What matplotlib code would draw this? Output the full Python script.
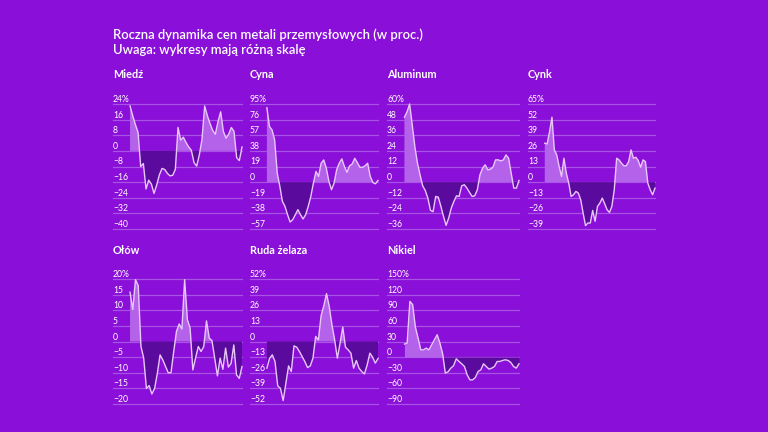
import numpy as np
import matplotlib
matplotlib.use('agg')
import matplotlib.pyplot as plt
import matplotlib.transforms as mtransforms

plt.rcParams['font.family'] = ['Lato', 'DejaVu Sans']

# --- data (roczna zmiana cen, %) ---
names = ["Miedź", "Cyna", "Aluminum", "Cynk", "Ołów", "Ruda żelaza", "Nikiel"]

miedz = [23, 18, 13.5, 9.5, -8, -6.5, -19.5, -15, -17, -21.8, -17.5, -12.3, -9, -9.5,
         -11.5, -12.8, -12.5, -9.5, 12, 5.5, 7, 4.3, 2, 0.3, -6, -7.8, -2, 6, 23, 18,
         14, 10.5, 8.5, 15, 20, 10, 6.5, 8.5, 12, 10, -3.5, -5, 2]
cyna = [90.5, 67.5, 63.4, 51.3, 11, -5, -23.4, -29.5, -39.6, -48.5, -45.7, -39.6, -33.5,
        -39.6, -44.8, -39.6, -29.5, -17.4, -1.2, 13, 6.9, 23, 27, 17, 0.8, -9.3, -1.2,
        15, 23, 28.3, 19, 12, 19.8, 22, 29, 23.8, 18, 18, 19.8, 23, 6.9, -0.4, -2, 2]
aluminum = [49.8, 54, 60, 43.9, 27.3, 14.6, 5.6, -2.8, -6.4, -12.3, -21.7, -22.7, -11,
            -11.5, -18.6, -26.3, -33.2, -27.6, -19.9, -14.8, -10.5, -11, -2.8, -2, -4.6,
            -7.9, -11, -10.5, -5.9, 5.6, 10.7, 13.3, 9.4, 10, 11.5, 17.1, 17.1, 16.3,
            17.1, 20.9, 18.4, 6.9, -4.6, -4.6, 1.3]
cynk = [32.4, 31.8, 42, 54, 26.8, 22.7, 13, 4.7, 19.9, 7.5, -0.8, -11.9, -10.5, -7.7,
        -9.1, -14.7, -25.7, -36.2, -34, -34, -23.5, -32.6, -20.2, -17.4, -13.3, -18,
        -23, -25.2, -20.2, -6.4, 19.9, 18.5, 15.8, 13.6, 13.6, 17.1, 26.8, 19.9, 20.7,
        18, 12.4, 18.5, 17.1, -0.8, -6.4, -10.5, -5]
olow = [15.8, 10.2, 19.8, 17.9, -1.6, -5.3, -15, -14.1, -16.8, -15, -10.2, -4.3, -5.9,
        -8, -10, -10, -3.2, 3.2, 5.6, 4, 19.8, 7, 4.3, -9.1, -5.3, -1.6, -3.2, -1.6,
        6.6, 1.1, 0.3, -5.3, -11, -5.3, -8.9, -2.1, -8.2, -7, -1.1, -10.7, -11.8, -8]
ruda = [-22.2, -13.9, -11.1, -16.7, -37, -38.9, -49.2, -34.8, -20.3, -25, -3.6, -4.7,
        -8.3, -12.5, -16.7, -21.7, -20.3, -13.9, 4.2, 1.4, 21.4, 29.7, 39.8, 29.2, 13.9,
        1.4, -13.9, -1.4, 12, -4.7, -7, -9.7, -22.2, -15.8, -22.2, -25, -27, -19.5,
        -9.7, -13, -18, -14.2]
nikiel = [25, 27, 107, 101, 58, 36.6, 14, 14, 17.3, 14, 23.8, 33.4, 43, 27, 6.4, -30.8,
          -28.2, -21.2, -16.7, -3.2, -8.3, -12.8, -18, -34, -43.7, -43.7, -39.2, -27.6,
          -24.4, -12.8, -18, -23.1, -21.2, -18, -8.3, -8.3, -6.4, -5.1, -6.4, -10.3, -18,
          -21.2, -12.8]
series = [miedz, cyna, aluminum, cynk, olow, ruda, nikiel]

ticks = [
    [24, 16, 8, 0, -8, -16, -24, -32, -40],
    [95, 76, 57, 38, 19, 0, -19, -38, -57],
    [60, 48, 36, 24, 12, 0, -12, -24, -36],
    [65, 52, 39, 26, 13, 0, -13, -26, -39],
    [20, 15, 10, 5, 0, -5, -10, -15, -20],
    [52, 39, 26, 13, 0, -13, -26, -39, -52],
    [150, 120, 90, 60, 30, 0, -30, -60, -90],
]

# --- style ---
bg = '#8a0fd8'
grid_c = '#a852e6'
pos_c = '#b462e9'
neg_c = '#5a0a9c'
line_c = '#e8c8f8'
txt_c = 'white'

W, H = 768, 432
fig = plt.figure(figsize=(W / 100, H / 100), dpi=100, facecolor=bg)

fig.text(113 / W, 1 - 35 / H, "Roczna dynamika cen metali przemysłowych (w proc.)",
         color=txt_c, fontsize=9.4, fontweight='semibold', va='center', ha='left')
fig.text(113 / W, 1 - 50 / H, "Uwaga: wykresy mają różną skalę",
         color=txt_c, fontsize=9.4, fontweight='semibold', va='center', ha='left')

lefts = [113, 250, 387, 528]
rights = [242, 378, 519, 655]
tops = [104, 279]
bots = [229, 404]
lead = 0.132  # share of axis width before the first point

for i, (name, vals, tk) in enumerate(zip(names, series, ticks)):
    r, c = divmod(i, 4)
    x0, x1 = lefts[c], rights[c]
    y0, y1 = tops[r], bots[r]
    ax = fig.add_axes([x0 / W, 1 - y1 / H, (x1 - x0) / W, (y1 - y0) / H])
    ax.set_facecolor(bg)
    for s in ax.spines.values():
        s.set_visible(False)
    ax.set_xticks([])
    ax.set_yticks([])

    y = np.array(vals, dtype=float)
    x = np.arange(len(y))
    n = len(y) - 1
    ax.set_xlim(-n * lead / (1 - lead), n)
    ax.set_ylim(min(tk), max(tk))

    trans = mtransforms.blended_transform_factory(ax.transAxes, ax.transData)
    for j, t in enumerate(tk):
        ax.axhline(t, color=grid_c, lw=0.9, zorder=1, clip_on=False)
        lab = f"{t}%" if j == 0 else f"{t}".replace('-', '−')
        ax.text(0, t, lab, transform=trans, color=txt_c, fontsize=6.2,
                ha='left', va='bottom', zorder=5)

    ax.fill_between(x, y, 0, where=y >= 0, interpolate=True, color=pos_c, lw=0, zorder=2)
    ax.fill_between(x, y, 0, where=y <= 0, interpolate=True, color=neg_c, lw=0, zorder=2)
    ax.plot(x, y, color=line_c, lw=1.0, zorder=3, clip_on=False)

    fig.text(x0 / W, 1 - (y0 - 29) / H, name, color=txt_c, fontsize=7.8,
             fontweight='bold', ha='left', va='center')

fig.savefig('out.png', dpi=100, facecolor=bg)
